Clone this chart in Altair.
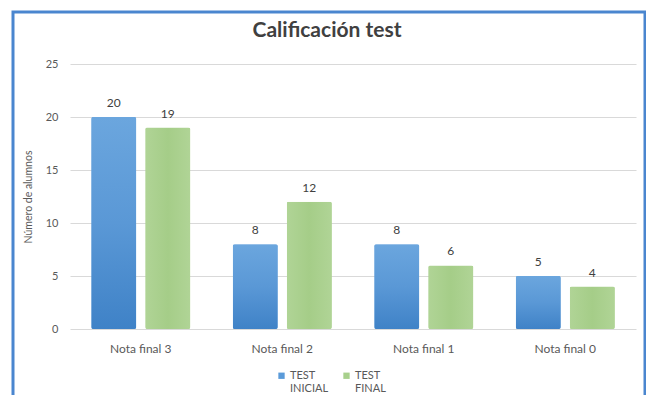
import altair as alt
import pandas as pd

categorias = ["Nota final 3", "Nota final 2", "Nota final 1", "Nota final 0"]
series = ["TEST INICIAL", "TEST FINAL"]
test_inicial = [20, 8, 8, 5]
test_final = [19, 12, 6, 4]
y_ticks = [0, 5, 10, 15, 20, 25]

rows = []
for c, a, b in zip(categorias, test_inicial, test_final):
    rows.append({"cat": c, "serie": series[0], "val": a})
    rows.append({"cat": c, "serie": series[1], "val": b})
df = pd.DataFrame(rows)

FONT = "Lato"
TXT = "#595959"

x = alt.X("cat:N", sort=categorias, title=None,
          scale=alt.Scale(paddingInner=0.3, paddingOuter=0.15),
          axis=alt.Axis(labelAngle=0, labelFontSize=12, labelColor=TXT, labelFont=FONT,
                        labelPadding=14, ticks=False, domain=False))
xoff = alt.XOffset("serie:N", sort=series, scale=alt.Scale(paddingInner=0.167, paddingOuter=0))
y = alt.Y("val:Q", title="Número de alumnos",
          scale=alt.Scale(domain=[0, 25], nice=False),
          axis=alt.Axis(values=y_ticks, labelFontSize=11, labelColor=TXT, labelFont=FONT,
                        titleFontSize=10.5, titleFont=FONT, titleColor=TXT, titleFontWeight="normal",
                        ticks=False, domain=False, labelPadding=12, titlePadding=12,
                        gridColor="#d9d9d9", gridWidth=1))

color = alt.Color("serie:N", sort=series, title=None,
                  scale=alt.Scale(domain=series, range=["#5b9bd9", "#a8d08c"]),
                  legend=alt.Legend(orient="none", legendX=206, legendY=306, direction="horizontal",
                                    symbolType="square", symbolSize=40, symbolStrokeWidth=0,
                                    labelFontSize=11, labelColor=TXT, labelFont=FONT,
                                    labelExpr="split(datum.label, ' ')", columnPadding=12,
                                    labelOffset=3))

frame = alt.Chart(pd.DataFrame({"k": [0]})).mark_rect(
    fillOpacity=0, stroke="#4a86cf", strokeWidth=3
).encode(x=alt.value(-57), x2=alt.value(575), y=alt.value(-52), y2=alt.value(420))

bars = alt.Chart(df).mark_bar(cornerRadius=2).encode(x=x, xOffset=xoff, y=y, color=color)

blue_grad = alt.Chart(df).transform_filter(alt.datum.serie == series[0]).mark_bar(
    cornerRadius=2,
    color=alt.Gradient(gradient="linear", x1=0, x2=0, y1=0, y2=1,
                       stops=[alt.GradientStop(color="#6ba6de", offset=0),
                              alt.GradientStop(color="#5a98d6", offset=0.5),
                              alt.GradientStop(color="#3f82c7", offset=1)])
).encode(x=alt.X("cat:N", sort=categorias), xOffset=alt.XOffset("serie:N", sort=series), y="val:Q")

green_grad = alt.Chart(df).transform_filter(alt.datum.serie == series[1]).mark_bar(
    cornerRadius=2,
    color=alt.Gradient(gradient="linear", x1=0, x2=1, y1=0, y2=0,
                       stops=[alt.GradientStop(color="#b0d496", offset=0),
                              alt.GradientStop(color="#a5cd88", offset=0.5),
                              alt.GradientStop(color="#b0d496", offset=1)])
).encode(x=alt.X("cat:N", sort=categorias), xOffset=alt.XOffset("serie:N", sort=series), y="val:Q")

labels = alt.Chart(df).mark_text(dy=-7, baseline="bottom", fontSize=12, color="#404040", font=FONT).encode(
    x=alt.X("cat:N", sort=categorias), xOffset=alt.XOffset("serie:N", sort=series),
    y="val:Q", text="val:Q")

chart = alt.layer(frame, bars, blue_grad, green_grad, labels).properties(
    width=566, height=265,
    title=alt.TitleParams("Calificación test", fontSize=21, font=FONT, fontWeight="bold",
                          color="#404040", anchor="middle", dx=-26, offset=-30),
    autosize=alt.AutoSizeParams(type="none"),
    padding={"left": 62, "top": 56, "right": 10, "bottom": 66},
).configure(background="white").configure_view(stroke=None)

chart.save("out.html", embed_options={"renderer": "svg", "actions": False})
